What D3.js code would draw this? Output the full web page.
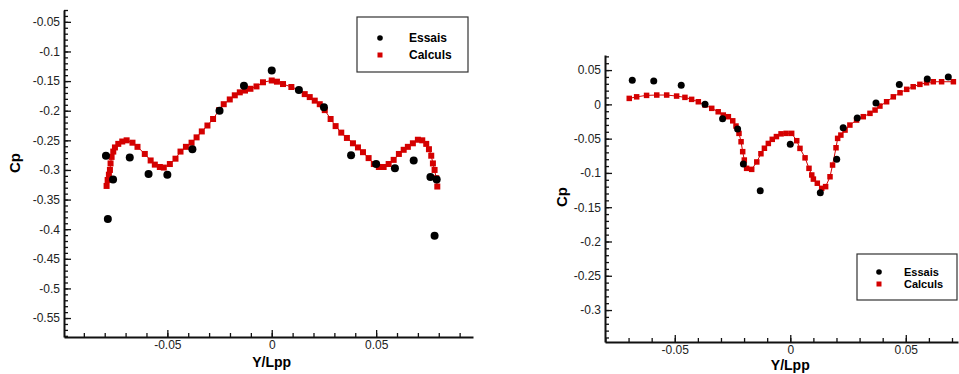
<!DOCTYPE html>
<html>
<head>
<meta charset="utf-8">
<script src="https://cdn.jsdelivr.net/npm/d3@7"></script>
<style>
  body { margin: 0; background: #fff; }
  svg { display: block; font-family: "Liberation Sans", Arial, sans-serif; }
</style>
</head>
<body>
<svg id="chart" width="959" height="374"></svg>
<script>
// left panel data
const essaisLX = [-0.0794, -0.0785, -0.0760, -0.0680, -0.0590, -0.0500, -0.0380, -0.0250, -0.0133, 0.0000,
                  0.0130, 0.0250, 0.0380, 0.0500, 0.0590, 0.0680, 0.0760, 0.0790, 0.0780];
const essaisLY = [-0.276, -0.383, -0.316, -0.279, -0.307, -0.308, -0.265, -0.200, -0.158, -0.132,
                  -0.165, -0.194, -0.275, -0.290, -0.297, -0.284, -0.312, -0.316, -0.411];
const calculsLX = [-0.0791, -0.0786, -0.0780, -0.0775, -0.0772, -0.0767, -0.0759, -0.0751, -0.0735, -0.0716,
                   -0.0695, -0.0667, -0.0643, -0.0608, -0.0580, -0.0560, -0.0536, -0.0517, -0.0488, -0.0461,
                   -0.0437, -0.0411, -0.0384, -0.0360, -0.0335, -0.0308, -0.0281, -0.0252, -0.0230, -0.0201,
                   -0.0177, -0.0153, -0.0128, -0.0102, -0.0073, -0.0042, 0.0000, 0.0025, 0.0054, 0.0094,
                   0.0131, 0.0158, 0.0182, 0.0206, 0.0230, 0.0254, 0.0282, 0.0306, 0.0333, 0.0360,
                   0.0389, 0.0413, 0.0437, 0.0464, 0.0489, 0.0513, 0.0536, 0.0560, 0.0584, 0.0609,
                   0.0632, 0.0652, 0.0676, 0.0700, 0.0721, 0.0740, 0.0753, 0.0764, 0.0772, 0.0780,
                   0.0788, 0.0793];
const calculsLY = [-0.327, -0.317, -0.308, -0.300, -0.289, -0.278, -0.269, -0.262, -0.256, -0.252,
                   -0.250, -0.254, -0.261, -0.273, -0.284, -0.291, -0.295, -0.296, -0.290, -0.281,
                   -0.269, -0.261, -0.254, -0.245, -0.235, -0.225, -0.214, -0.199, -0.189, -0.181,
                   -0.174, -0.169, -0.166, -0.163, -0.159, -0.152, -0.149, -0.151, -0.155, -0.160,
                   -0.165, -0.172, -0.177, -0.183, -0.189, -0.199, -0.214, -0.226, -0.237, -0.246,
                   -0.255, -0.262, -0.270, -0.280, -0.290, -0.295, -0.295, -0.290, -0.283, -0.273,
                   -0.266, -0.261, -0.255, -0.249, -0.250, -0.256, -0.265, -0.276, -0.289, -0.300,
                   -0.314, -0.328];
const ticksLX = [-0.05, 0, 0.05];
const ticksLY = [-0.55, -0.5, -0.45, -0.4, -0.35, -0.3, -0.25, -0.2, -0.15, -0.1, -0.05];

// right panel data
const essaisRX = [-0.0684, -0.0591, -0.0472, -0.0369, -0.0293, -0.0228, -0.0203, -0.0130, 0.0000,
                  0.0130, 0.0201, 0.0229, 0.0290, 0.0371, 0.0472, 0.0593, 0.0684];
const essaisRY = [0.035, 0.034, 0.028, 0.000, -0.021, -0.036, -0.087, -0.126, -0.058,
                  -0.129, -0.080, -0.034, -0.020, 0.002, 0.029, 0.037, 0.040];
const calculsRX = [-0.0697, -0.0665, -0.0622, -0.0578, -0.0535, -0.0492, -0.0456, -0.0427, -0.0398, -0.0369,
                   -0.0340, -0.0312, -0.0290, -0.0268, -0.0249, -0.0235, -0.0222, -0.0213, -0.0206, -0.0199,
                   -0.0189, -0.0167, -0.0145, -0.0127, -0.0112, -0.0095, -0.0078, -0.0060, -0.0040, -0.0018,
                   0.0006, 0.0028, 0.0042, 0.0064, 0.0081, 0.0093, 0.0100, 0.0117, 0.0136, 0.0153,
                   0.0172, 0.0183, 0.0198, 0.0205, 0.0219, 0.0237, 0.0258, 0.0287, 0.0316, 0.0345,
                   0.0367, 0.0388, 0.0417, 0.0446, 0.0475, 0.0504, 0.0532, 0.0561, 0.0590, 0.0619,
                   0.0655, 0.0706];
const calculsRY = [0.0087, 0.0110, 0.0131, 0.0136, 0.0136, 0.0121, 0.0102, 0.0073, 0.0038, -0.0010,
                   -0.0058, -0.0108, -0.0156, -0.0180, -0.0240, -0.0316, -0.0423, -0.0545, -0.0690, -0.0812,
                   -0.0933, -0.0948, -0.0840, -0.0720, -0.0640, -0.0570, -0.0510, -0.0470, -0.0430, -0.0423,
                   -0.0423, -0.0530, -0.0642, -0.0780, -0.0933, -0.1030, -0.1090, -0.1150, -0.1225, -0.1200,
                   -0.1056, -0.0885, -0.0633, -0.0496, -0.0448, -0.0375, -0.0302, -0.0229, -0.0180, -0.0131,
                   -0.0083, -0.0025, 0.0038, 0.0110, 0.0169, 0.0219, 0.0257, 0.0292, 0.0315, 0.0330,
                   0.0330, 0.0330];
const ticksRX = [-0.05, 0, 0.05];
const ticksRY = [-0.3, -0.25, -0.2, -0.15, -0.1, -0.05, 0, 0.05];

const seriesNames = ["Essais", "Calculs"];
const red = "#d40000";

const svg = d3.select("#chart");

const fmt = v => {
  const s = String(+v.toFixed(2));
  return s === "-0" ? "0" : s;
};

function drawPanel(p) {
  const x = d3.scaleLinear().domain(p.xDomain).range(p.xRange);
  const y = d3.scaleLinear().domain(p.yDomain).range(p.yRange);
  const g = svg.append("g");

  // minor ticks every 0.01
  const minorX = d3.range(Math.ceil(p.xDomain[0] * 100), Math.floor(p.xDomain[1] * 100) + 1).map(d => d / 100);
  const minorY = d3.range(Math.ceil(p.yDomain[0] * 100), Math.floor(p.yDomain[1] * 100) + 1).map(d => d / 100);

  g.append("g")
    .attr("transform", `translate(0,${p.yRange[0]})`)
    .call(d3.axisBottom(x).tickValues(minorX).tickSize(-4).tickSizeOuter(0).tickFormat(""))
    .call(a => a.select(".domain").remove());
  g.append("g")
    .attr("transform", `translate(${p.xRange[0]},0)`)
    .call(d3.axisLeft(y).tickValues(minorY).tickSize(-4).tickSizeOuter(0).tickFormat(""))
    .call(a => a.select(".domain").remove());

  const xAxis = g.append("g")
    .attr("transform", `translate(0,${p.yRange[0]})`)
    .call(d3.axisBottom(x).tickValues(p.xTicks).tickSize(-7).tickSizeOuter(0).tickPadding(2).tickFormat(fmt));
  g.append("g")
    .attr("transform", `translate(${p.xRange[0]},0)`)
    .call(d3.axisLeft(y).tickValues(p.yTicks).tickSize(-7).tickSizeOuter(0).tickPadding(4).tickFormat(fmt));

  g.selectAll(".tick line").attr("stroke", "#111").attr("stroke-width", 1.3);
  g.selectAll(".domain").attr("stroke", "#111").attr("stroke-width", 2);
  g.selectAll(".tick text").attr("font-size", 12).attr("fill", "#222")
    .attr("font-family", "'Liberation Sans', Arial, sans-serif");
  xAxis.selectAll(".tick text").attr("dy", "0.8em");

  g.append("text")
    .attr("x", x(0)).attr("y", p.xLabelY)
    .attr("text-anchor", "middle").attr("font-size", 14).attr("font-weight", "bold")
    .text("Y/Lpp");
  g.append("text")
    .attr("transform", `translate(${p.yLabelX},${p.yLabelY}) rotate(-90)`)
    .attr("text-anchor", "middle").attr("font-size", 15).attr("font-weight", "bold")
    .text("Cp");

  const calc = p.calcX.map((v, i) => [v, p.calcY[i]]);
  g.append("path")
    .datum(calc)
    .attr("fill", "none").attr("stroke", red).attr("stroke-width", 1)
    .attr("d", d3.line().x(d => x(d[0])).y(d => y(d[1])));
  g.append("g").selectAll("rect")
    .data(calc)
    .join("rect")
    .attr("x", d => x(d[0]) - p.sq / 2).attr("y", d => y(d[1]) - p.sq / 2)
    .attr("width", p.sq).attr("height", p.sq)
    .attr("fill", red);

  const ess = p.essX.map((v, i) => [v, p.essY[i]]);
  g.append("g").selectAll("circle")
    .data(ess)
    .join("circle")
    .attr("cx", d => x(d[0])).attr("cy", d => y(d[1]))
    .attr("r", p.dot).attr("fill", "#000");

  // legend
  const lg = g.append("g").attr("transform", `translate(${p.legend.x},${p.legend.y})`);
  lg.append("rect")
    .attr("width", p.legend.w).attr("height", p.legend.h)
    .attr("fill", "#fff").attr("stroke", "#333").attr("stroke-width", 1.2);
  seriesNames.forEach((name, i) => {
    const cy = p.legend.row0 + i * p.legend.rowH;
    if (i === 0) {
      lg.append("circle").attr("cx", p.legend.mx).attr("cy", cy).attr("r", 2.8).attr("fill", "#000");
    } else {
      lg.append("rect").attr("x", p.legend.mx - 2.5).attr("y", cy - 2.5)
        .attr("width", 5).attr("height", 5).attr("fill", red);
    }
    lg.append("text")
      .attr("x", p.legend.tx).attr("y", cy).attr("dy", "0.35em")
      .attr("font-size", p.legend.fs).attr("font-weight", "bold")
      .text(name);
  });
}

drawPanel({
  xDomain: [-0.0995, 0.0964], xRange: [64, 473],
  yDomain: [-0.582, -0.03], yRange: [337, 10],
  xTicks: ticksLX, yTicks: ticksLY,
  essX: essaisLX, essY: essaisLY, calcX: calculsLX, calcY: calculsLY,
  sq: 6, dot: 4,
  xLabelY: 367, yLabelX: 20, yLabelY: 163,
  legend: { x: 357, y: 17, w: 111, h: 55, row0: 21, rowH: 17, mx: 23, tx: 52, fs: 12 }
});

drawPanel({
  xDomain: [-0.0802, 0.0726], xRange: [605, 958],
  yDomain: [-0.3466, 0.072], yRange: [342, 55],
  xTicks: ticksRX, yTicks: ticksRY,
  essX: essaisRX, essY: essaisRY, calcX: calculsRX, calcY: calculsRY,
  sq: 5.5, dot: 3.5,
  xLabelY: 370, yLabelX: 567, yLabelY: 197,
  legend: { x: 857, y: 254, w: 100, h: 46, row0: 18, rowH: 12, mx: 22, tx: 47, fs: 11 }
});
</script>
</body>
</html>
